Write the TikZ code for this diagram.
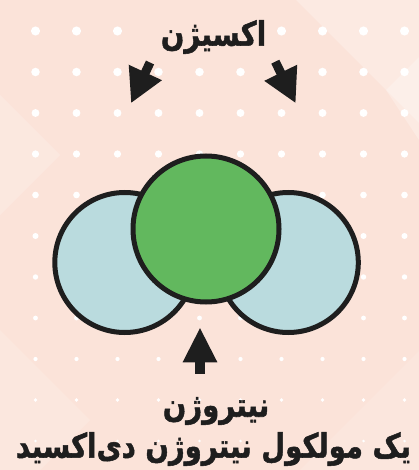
\documentclass[tikz,border=0pt]{standalone}
\usepackage{fontspec}
\usetikzlibrary{arrows.meta}
\newfontfamily\arabicheavy[Script=Arabic, FakeBold=1.6]{DejaVu Sans Bold}
\TeXXeTstate=1
\definecolor{bgpeach}{HTML}{FBE3D9}
\definecolor{oxblue}{HTML}{BADBDE}
\definecolor{nitgreen}{HTML}{62B85E}
\definecolor{ink}{HTML}{1E1E1E}
\tikzset{
  atom/.style={circle, draw=ink, line width=5pt, inner sep=0pt},
  oxygen/.style={atom, fill=oxblue, minimum size=140pt},
  nitrogen/.style={atom, fill=nitgreen, minimum size=146pt},
  label text/.style={text=ink, font=\arabicheavy\fontsize{27.5}{30}\selectfont, inner sep=0pt, yscale=1.22},
  fatarrow/.style={draw=ink, line width=#1, -{Triangle[length=34pt,width=34pt]}},
  bgdot/.style={fill=white, draw=none}
}
\begin{document}
\begin{tikzpicture}[x=1pt,y=-1pt]
\useasboundingbox (0,0) rectangle (419,470);
\fill[bgpeach] (0,0) rectangle (419,470);
% subtle lighter facets
\fill[white, opacity=0.25] (296,0) -- (419,0) -- (419,123) -- cycle;
\fill[white, opacity=0.25] (386,90) -- (419,57) -- (419,140) -- cycle;
\fill[white, opacity=0.18] (0,95) -- (60,155) -- (0,215) -- cycle;
\fill[white, opacity=0.15] (0,330) -- (90,420) -- (40,470) -- (0,470) -- cycle;
\fill[white, opacity=0.12] (300,470) -- (419,351) -- (419,470) -- cycle;
% dot grid
\foreach \i in {0,...,9}{
  \foreach \j in {0,...,10}{
    \pgfmathsetmacro{\px}{35.5+41*\i}
    \pgfmathsetmacro{\py}{31+41*\j}
    \pgfmathsetmacro{\pr}{max(1.2,4.8-0.0075*\py)}
    \pgfmathparse{(\j==0 && \i>=3 && \i<=5) ? 0 : 1}
    \ifnum\pgfmathresult=1
      \fill[bgdot] (\px,\py) circle[radius=\pr];
    \fi
  }
}
% molecule
\node[oxygen] (O1) at (124.8,262.5) {};
\node[oxygen] (O2) at (288.3,262.5) {};
\node[nitrogen] (N) at (206,229) {};
% labels
\node[label text] (oxlabel) at (213.5,37) {\beginR اکسیژن\endR};
\node[label text] (nlabel) at (216,411) {\beginR نیتروژن\endR};
\node[label text] (caption) at (213.5,449) {\beginR یک مولکول نیتروژن دی‌اکسید\endR};
% arrows
\coordinate (a1s) at (150,62.5);
\coordinate (a1e) at (131,103.3);
\coordinate (a2s) at (275.3,61.7);
\coordinate (a2e) at (295.7,103.3);
\coordinate (a3s) at (200,373.5);
\coordinate (a3e) at (200,327.3);
\draw[fatarrow=9pt] (a1s) -- (a1e);
\draw[fatarrow=9pt] (a2s) -- (a2e);
\draw[draw=ink, line width=10.5pt, -{Triangle[length=35pt,width=32pt]}] (a3s) -- (a3e);
\end{tikzpicture}
\end{document}
